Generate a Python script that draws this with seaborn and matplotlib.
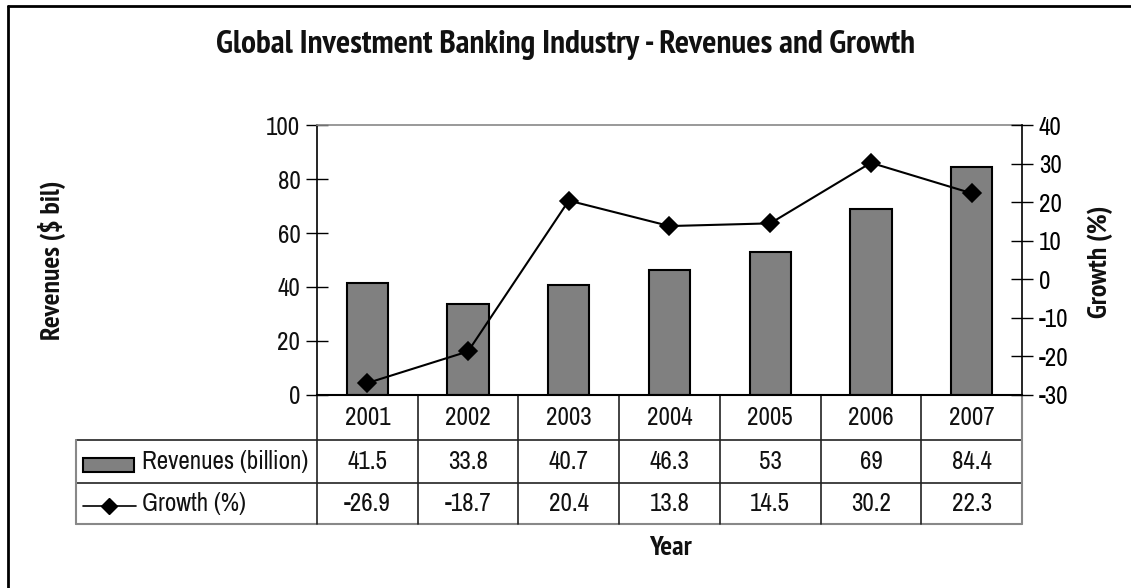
import matplotlib
matplotlib.use("Agg")
import matplotlib.pyplot as plt
from matplotlib import font_manager
from matplotlib.transforms import blended_transform_factory
from matplotlib.lines import Line2D
from matplotlib.patches import Rectangle
import seaborn as sns
import pandas as pd

years = ["2001", "2002", "2003", "2004", "2005", "2006", "2007"]
revenues = [41.5, 33.8, 40.7, 46.3, 53, 69, 84.4]
growth = [-26.9, -18.7, 20.4, 13.8, 14.5, 30.2, 22.3]
revenue_labels = ["41.5", "33.8", "40.7", "46.3", "53", "69", "84.4"]
growth_labels = ["-26.9", "-18.7", "20.4", "13.8", "14.5", "30.2", "22.3"]
left_ticks = [0, 20, 40, 60, 80, 100]
right_ticks = [-30, -20, -10, 0, 10, 20, 30, 40]

title = "Global Investment Banking Industry - Revenues and Growth"
series_names = ["Revenues (billion)", "Growth (%)"]

sns.set_theme(style="white")

# pick a narrow / condensed font family (regular + bold) if installed
fams = {}
for f in font_manager.fontManager.ttflist:
    key = (f.name, str(f.stretch))
    fams.setdefault(key, set()).add(f.weight if isinstance(f.weight, int) else 400)
def score(key):
    nm, st = key
    s = 0
    if "Narrow" in nm:
        s -= 10
    if "Liberation" in nm:
        s -= 5
    if "Condensed" in nm or st in ("condensed", "semi-condensed"):
        s -= 3
    return s
cands = [k for k in fams if ("Narrow" in k[0] or "Condensed" in k[0]
                             or k[1] in ("condensed", "semi-condensed"))]
reg_fam, reg_st = "Liberation Sans", "normal"
bold_fam, bold_st = "Liberation Sans", "normal"
if cands:
    cands.sort(key=score)
    reg_fam, reg_st = cands[0]
    with_bold = [k for k in cands if max(fams[k]) >= 600]
    if with_bold:
        bold_fam, bold_st = with_bold[0]
if reg_st not in ("condensed", "semi-condensed"):
    reg_st = "normal"
if bold_st not in ("condensed", "semi-condensed"):
    bold_st = "normal"
plt.rcParams["font.family"] = [reg_fam, "DejaVu Sans"]
plt.rcParams["font.stretch"] = reg_st
bold_kw = dict(family=[bold_fam, "DejaVu Sans"], fontstretch=bold_st, fontweight="bold")

W, H = 1131, 588
fig = plt.figure(figsize=(W / 100, H / 100), dpi=100)
px_l, px_r, px_t, px_b = 317, 1022, 125, 395
ax = fig.add_axes([px_l / W, 1 - px_b / H, (px_r - px_l) / W, (px_b - px_t) / H])

df = pd.DataFrame({"year": years, "rev": revenues, "growth": growth})
sns.barplot(data=df, x="year", y="rev", ax=ax, color="#808080", width=0.41,
            edgecolor="black", linewidth=1.5, saturation=1, zorder=2)
ax.set_xlim(-0.5, 6.5)
ax.set_ylim(0, 100)
ax.set_yticks(left_ticks)
ax.set_xticks([])
ax.set_xlabel("")
ax.set_ylabel("")
fs = 18
ax.tick_params(axis="y", direction="inout", length=16, width=1, colors="black",
               labelsize=fs, pad=4, left=True)
for lab in ax.get_yticklabels():
    lab.set_color("#111111")

ax2 = ax.twinx()
sns.pointplot(data=df, x="year", y="growth", ax=ax2, color="black", markers="D",
              linestyles="-", linewidth=1.5, markersize=9, zorder=5)
ax2.set_xlim(-0.5, 6.5)
ax2.set_ylim(-30, 40)
ax2.set_yticks(right_ticks)
ax2.set_yticklabels([str(t) for t in right_ticks])
ax2.set_xticks([])
ax2.set_xlabel("")
ax2.set_ylabel("")
ax2.tick_params(axis="y", direction="inout", length=16, width=1, colors="black",
                labelsize=fs, pad=4, right=True)

for a in (ax, ax2):
    for s in a.spines.values():
        s.set_visible(False)
ax.spines["left"].set_visible(True)
ax.spines["left"].set_color("black")
ax.spines["left"].set_linewidth(1.2)
ax.spines["bottom"].set_visible(True)
ax.spines["bottom"].set_color("black")
ax.spines["bottom"].set_linewidth(1.5)
ax.spines["top"].set_visible(True)
ax.spines["top"].set_color("#888888")
ax.spines["top"].set_linewidth(1.2)
ax2.spines["right"].set_visible(True)
ax2.spines["right"].set_color("black")
ax2.spines["right"].set_linewidth(1.2)

# Data table below the axes
tr = blended_transform_factory(ax.transData, ax.transAxes)
plot_h = px_b - px_t
def yfr(py):
    return (px_b - py) / plot_h
col_w = (px_r - px_l) / len(years)
def xd(px):
    return -0.5 + (px - px_l) / col_w

y_hdr, y_r1, y_r2 = yfr(440), yfr(483), yfr(524)
x_tab = xd(76)
kw = dict(transform=tr, clip_on=False)
ax.add_line(Line2D([x_tab, 6.5], [y_hdr, y_hdr], color="#222222", lw=1.2, **kw))
ax.add_line(Line2D([x_tab, 6.5], [y_r1, y_r1], color="#222222", lw=1.2, **kw))
ax.add_line(Line2D([x_tab, 6.5], [y_r2, y_r2], color="#888888", lw=1.5, **kw))
ax.add_line(Line2D([x_tab, x_tab], [y_hdr, y_r2], color="#888888", lw=1.5, **kw))
for i in range(len(years)):
    ax.add_line(Line2D([i - 0.5, i - 0.5], [0, y_r2], color="#222222", lw=1.2, **kw))
ax.add_line(Line2D([6.5, 6.5], [0, y_r2], color="#888888", lw=1.5, **kw))

for i, y in enumerate(years):
    ax.text(i, (0 + y_hdr) / 2, y, ha="center", va="center", fontsize=fs, color="#111111", **kw)
    ax.text(i, (y_hdr + y_r1) / 2, revenue_labels[i], ha="center", va="center", fontsize=fs, color="#111111", **kw)
    ax.text(i, (y_r1 + y_r2) / 2, growth_labels[i], ha="center", va="center", fontsize=fs, color="#111111", **kw)

ax.add_patch(Rectangle((xd(83), yfr(472)), xd(134) - xd(83), yfr(458) - yfr(472),
                       facecolor="#808080", edgecolor="black", lw=1.5, **kw))
ax.add_line(Line2D([xd(83), xd(136)], [yfr(506), yfr(506)], color="black", lw=1.2, **kw))
ax.add_line(Line2D([xd(109)], [yfr(506)], color="black", marker="D", markersize=8.5, **kw))
ax.text(xd(142), (y_hdr + y_r1) / 2, series_names[0], ha="left", va="center", fontsize=fs, color="#111111", **kw)
ax.text(xd(142), (y_r1 + y_r2) / 2, series_names[1], ha="left", va="center", fontsize=fs, color="#111111", **kw)

fig.text(566 / W, 1 - 45 / H, title, ha="center", va="center", fontsize=24, color="#111111", **bold_kw)
fig.text(52 / W, 1 - 260 / H, "Revenues ($ bil)", ha="center", va="center", rotation=90,
         fontsize=20, color="#111111", **bold_kw)
fig.text(1100 / W, 1 - 262 / H, "Growth (%)", ha="center", va="center", rotation=90,
         fontsize=20, color="#111111", **bold_kw)
fig.text(670 / W, 1 - 548 / H, "Year", ha="center", va="center", fontsize=20,
         color="#111111", **bold_kw)

fig.add_artist(Line2D([8 / W, 8 / W], [0, 1 - 6 / H], color="black", lw=2, transform=fig.transFigure))
fig.add_artist(Line2D([8 / W, 1], [1 - 6 / H, 1 - 6 / H], color="black", lw=2, transform=fig.transFigure))

fig.savefig("out.png", dpi=100)
